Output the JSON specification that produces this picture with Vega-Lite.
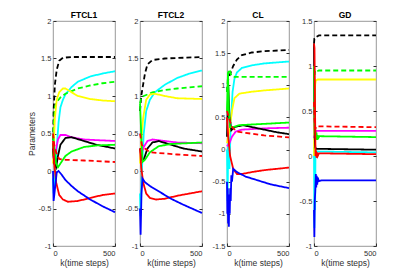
{
"$schema":"https://vega.github.io/schema/vega-lite/v6.json",
"background":"white",
"padding":{"left":26,"top":10,"right":5,"bottom":0},
"spacing":25,
"config":{"font":"Liberation Sans","view":{"stroke":"#7f7f7f","strokeWidth":0.8},
"axis":{"grid":false,"domain":false,"labelFontSize":7.5,"labelColor":"#303030","titleFontSize":8.5,"titleFontWeight":"normal","titleColor":"#303030","tickColor":"#303030","tickSize":-3,"labelPadding":5},
"title":{"fontSize":8.5,"fontWeight":"bold","offset":-2,"color":"#000"}},
"bounds":"flush",
"datasets":{"d":[
{"p":"FTCL1","s":"kd","k":0,"v":0.3},{"p":"FTCL1","s":"kd","k":5,"v":0.8},{"p":"FTCL1","s":"kd","k":15,"v":1.15},{"p":"FTCL1","s":"kd","k":30,"v":1.35},{"p":"FTCL1","s":"kd","k":50,"v":1.47},{"p":"FTCL1","s":"kd","k":80,"v":1.51},{"p":"FTCL1","s":"kd","k":150,"v":1.52},{"p":"FTCL1","s":"kd","k":500,"v":1.52},
{"p":"FTCL1","s":"c","k":0,"v":-0.1},{"p":"FTCL1","s":"c","k":5,"v":-0.3},{"p":"FTCL1","s":"c","k":15,"v":-0.1},{"p":"FTCL1","s":"c","k":30,"v":0.3},{"p":"FTCL1","s":"c","k":45,"v":0.65},{"p":"FTCL1","s":"c","k":60,"v":0.85},{"p":"FTCL1","s":"c","k":80,"v":0.95},{"p":"FTCL1","s":"c","k":100,"v":1.02},{"p":"FTCL1","s":"c","k":150,"v":1.12},{"p":"FTCL1","s":"c","k":200,"v":1.19},{"p":"FTCL1","s":"c","k":300,"v":1.26},{"p":"FTCL1","s":"c","k":400,"v":1.3},{"p":"FTCL1","s":"c","k":500,"v":1.33},
{"p":"FTCL1","s":"gd","k":0,"v":0.2},{"p":"FTCL1","s":"gd","k":5,"v":0.6},{"p":"FTCL1","s":"gd","k":15,"v":0.85},{"p":"FTCL1","s":"gd","k":30,"v":0.92},{"p":"FTCL1","s":"gd","k":60,"v":0.98},{"p":"FTCL1","s":"gd","k":100,"v":1.03},{"p":"FTCL1","s":"gd","k":200,"v":1.1},{"p":"FTCL1","s":"gd","k":300,"v":1.14},{"p":"FTCL1","s":"gd","k":400,"v":1.17},{"p":"FTCL1","s":"gd","k":500,"v":1.19},
{"p":"FTCL1","s":"y","k":0,"v":0.1},{"p":"FTCL1","s":"y","k":5,"v":0.3},{"p":"FTCL1","s":"y","k":15,"v":0.7},{"p":"FTCL1","s":"y","k":30,"v":0.95},{"p":"FTCL1","s":"y","k":50,"v":1.05},{"p":"FTCL1","s":"y","k":80,"v":1.1},{"p":"FTCL1","s":"y","k":100,"v":1.1},{"p":"FTCL1","s":"y","k":150,"v":1.05},{"p":"FTCL1","s":"y","k":200,"v":1.0},{"p":"FTCL1","s":"y","k":300,"v":0.96},{"p":"FTCL1","s":"y","k":400,"v":0.94},{"p":"FTCL1","s":"y","k":500,"v":0.93},
{"p":"FTCL1","s":"m","k":0,"v":0.2},{"p":"FTCL1","s":"m","k":10,"v":0.15},{"p":"FTCL1","s":"m","k":20,"v":0.25},{"p":"FTCL1","s":"m","k":40,"v":0.42},{"p":"FTCL1","s":"m","k":60,"v":0.48},{"p":"FTCL1","s":"m","k":100,"v":0.48},{"p":"FTCL1","s":"m","k":150,"v":0.45},{"p":"FTCL1","s":"m","k":250,"v":0.42},{"p":"FTCL1","s":"m","k":500,"v":0.4},
{"p":"FTCL1","s":"k","k":0,"v":0.3},{"p":"FTCL1","s":"k","k":10,"v":0.1},{"p":"FTCL1","s":"k","k":25,"v":0.05},{"p":"FTCL1","s":"k","k":40,"v":0.2},{"p":"FTCL1","s":"k","k":60,"v":0.35},{"p":"FTCL1","s":"k","k":100,"v":0.44},{"p":"FTCL1","s":"k","k":150,"v":0.45},{"p":"FTCL1","s":"k","k":250,"v":0.4},{"p":"FTCL1","s":"k","k":350,"v":0.35},{"p":"FTCL1","s":"k","k":500,"v":0.3},
{"p":"FTCL1","s":"g","k":0,"v":0.5},{"p":"FTCL1","s":"g","k":10,"v":0.3},{"p":"FTCL1","s":"g","k":25,"v":0.1},{"p":"FTCL1","s":"g","k":40,"v":0.05},{"p":"FTCL1","s":"g","k":60,"v":0.1},{"p":"FTCL1","s":"g","k":100,"v":0.2},{"p":"FTCL1","s":"g","k":150,"v":0.26},{"p":"FTCL1","s":"g","k":250,"v":0.32},{"p":"FTCL1","s":"g","k":350,"v":0.34},{"p":"FTCL1","s":"g","k":500,"v":0.35},
{"p":"FTCL1","s":"rd","k":0,"v":0.5},{"p":"FTCL1","s":"rd","k":10,"v":0.35},{"p":"FTCL1","s":"rd","k":25,"v":0.25},{"p":"FTCL1","s":"rd","k":50,"v":0.16},{"p":"FTCL1","s":"rd","k":100,"v":0.15},{"p":"FTCL1","s":"rd","k":250,"v":0.14},{"p":"FTCL1","s":"rd","k":500,"v":0.12},
{"p":"FTCL1","s":"r","k":0,"v":0.4},{"p":"FTCL1","s":"r","k":10,"v":0.1},{"p":"FTCL1","s":"r","k":25,"v":-0.15},{"p":"FTCL1","s":"r","k":50,"v":-0.32},{"p":"FTCL1","s":"r","k":80,"v":-0.38},{"p":"FTCL1","s":"r","k":120,"v":-0.41},{"p":"FTCL1","s":"r","k":200,"v":-0.4},{"p":"FTCL1","s":"r","k":300,"v":-0.36},{"p":"FTCL1","s":"r","k":400,"v":-0.32},{"p":"FTCL1","s":"r","k":500,"v":-0.3},
{"p":"FTCL1","s":"b","k":0,"v":0},{"p":"FTCL1","s":"b","k":5,"v":-0.4},{"p":"FTCL1","s":"b","k":15,"v":-0.25},{"p":"FTCL1","s":"b","k":30,"v":-0.02},{"p":"FTCL1","s":"b","k":45,"v":0.0},{"p":"FTCL1","s":"b","k":70,"v":-0.05},{"p":"FTCL1","s":"b","k":100,"v":-0.12},{"p":"FTCL1","s":"b","k":150,"v":-0.2},{"p":"FTCL1","s":"b","k":200,"v":-0.27},{"p":"FTCL1","s":"b","k":300,"v":-0.38},{"p":"FTCL1","s":"b","k":400,"v":-0.47},{"p":"FTCL1","s":"b","k":500,"v":-0.55},

{"p":"FTCL2","s":"kd","k":0,"v":0.8},{"p":"FTCL2","s":"kd","k":10,"v":1.0},{"p":"FTCL2","s":"kd","k":20,"v":1.1},{"p":"FTCL2","s":"kd","k":40,"v":1.3},{"p":"FTCL2","s":"kd","k":60,"v":1.42},{"p":"FTCL2","s":"kd","k":100,"v":1.48},{"p":"FTCL2","s":"kd","k":200,"v":1.5},{"p":"FTCL2","s":"kd","k":500,"v":1.52},
{"p":"FTCL2","s":"c","k":0,"v":-0.3},{"p":"FTCL2","s":"c","k":5,"v":-0.6},{"p":"FTCL2","s":"c","k":15,"v":0.0},{"p":"FTCL2","s":"c","k":30,"v":0.5},{"p":"FTCL2","s":"c","k":50,"v":0.8},{"p":"FTCL2","s":"c","k":80,"v":0.95},{"p":"FTCL2","s":"c","k":120,"v":1.05},{"p":"FTCL2","s":"c","k":200,"v":1.15},{"p":"FTCL2","s":"c","k":300,"v":1.24},{"p":"FTCL2","s":"c","k":400,"v":1.3},{"p":"FTCL2","s":"c","k":500,"v":1.34},
{"p":"FTCL2","s":"gd","k":0,"v":0.9},{"p":"FTCL2","s":"gd","k":10,"v":0.98},{"p":"FTCL2","s":"gd","k":30,"v":1.0},{"p":"FTCL2","s":"gd","k":60,"v":1.02},{"p":"FTCL2","s":"gd","k":100,"v":1.05},{"p":"FTCL2","s":"gd","k":200,"v":1.08},{"p":"FTCL2","s":"gd","k":300,"v":1.1},{"p":"FTCL2","s":"gd","k":500,"v":1.13},
{"p":"FTCL2","s":"y","k":0,"v":0.1},{"p":"FTCL2","s":"y","k":10,"v":0.4},{"p":"FTCL2","s":"y","k":25,"v":0.7},{"p":"FTCL2","s":"y","k":50,"v":0.95},{"p":"FTCL2","s":"y","k":80,"v":1.02},{"p":"FTCL2","s":"y","k":120,"v":1.03},{"p":"FTCL2","s":"y","k":200,"v":1.0},{"p":"FTCL2","s":"y","k":300,"v":0.97},{"p":"FTCL2","s":"y","k":500,"v":0.96},
{"p":"FTCL2","s":"m","k":0,"v":0.3},{"p":"FTCL2","s":"m","k":15,"v":0.25},{"p":"FTCL2","s":"m","k":30,"v":0.32},{"p":"FTCL2","s":"m","k":60,"v":0.4},{"p":"FTCL2","s":"m","k":100,"v":0.42},{"p":"FTCL2","s":"m","k":200,"v":0.4},{"p":"FTCL2","s":"m","k":300,"v":0.38},{"p":"FTCL2","s":"m","k":500,"v":0.37},
{"p":"FTCL2","s":"k","k":0,"v":0.3},{"p":"FTCL2","s":"k","k":15,"v":0.15},{"p":"FTCL2","s":"k","k":30,"v":0.15},{"p":"FTCL2","s":"k","k":60,"v":0.3},{"p":"FTCL2","s":"k","k":100,"v":0.38},{"p":"FTCL2","s":"k","k":150,"v":0.4},{"p":"FTCL2","s":"k","k":250,"v":0.35},{"p":"FTCL2","s":"k","k":350,"v":0.3},{"p":"FTCL2","s":"k","k":500,"v":0.26},
{"p":"FTCL2","s":"g","k":0,"v":0.9},{"p":"FTCL2","s":"g","k":10,"v":0.5},{"p":"FTCL2","s":"g","k":20,"v":0.12},{"p":"FTCL2","s":"g","k":40,"v":0.15},{"p":"FTCL2","s":"g","k":80,"v":0.25},{"p":"FTCL2","s":"g","k":150,"v":0.33},{"p":"FTCL2","s":"g","k":250,"v":0.36},{"p":"FTCL2","s":"g","k":500,"v":0.38},
{"p":"FTCL2","s":"rd","k":0,"v":0.5},{"p":"FTCL2","s":"rd","k":15,"v":0.35},{"p":"FTCL2","s":"rd","k":40,"v":0.3},{"p":"FTCL2","s":"rd","k":80,"v":0.25},{"p":"FTCL2","s":"rd","k":150,"v":0.24},{"p":"FTCL2","s":"rd","k":300,"v":0.22},{"p":"FTCL2","s":"rd","k":500,"v":0.2},
{"p":"FTCL2","s":"r","k":0,"v":0.3},{"p":"FTCL2","s":"r","k":10,"v":0.05},{"p":"FTCL2","s":"r","k":25,"v":-0.15},{"p":"FTCL2","s":"r","k":50,"v":-0.3},{"p":"FTCL2","s":"r","k":80,"v":-0.36},{"p":"FTCL2","s":"r","k":130,"v":-0.38},{"p":"FTCL2","s":"r","k":200,"v":-0.37},{"p":"FTCL2","s":"r","k":300,"v":-0.33},{"p":"FTCL2","s":"r","k":400,"v":-0.3},{"p":"FTCL2","s":"r","k":500,"v":-0.27},
{"p":"FTCL2","s":"b","k":0,"v":-0.5},{"p":"FTCL2","s":"b","k":5,"v":-0.85},{"p":"FTCL2","s":"b","k":12,"v":-0.3},{"p":"FTCL2","s":"b","k":20,"v":-0.1},{"p":"FTCL2","s":"b","k":40,"v":-0.15},{"p":"FTCL2","s":"b","k":80,"v":-0.2},{"p":"FTCL2","s":"b","k":150,"v":-0.27},{"p":"FTCL2","s":"b","k":250,"v":-0.37},{"p":"FTCL2","s":"b","k":350,"v":-0.45},{"p":"FTCL2","s":"b","k":500,"v":-0.56},

{"p":"CL","s":"kd","k":0,"v":0.9},{"p":"CL","s":"kd","k":10,"v":1.1},{"p":"CL","s":"kd","k":30,"v":1.2},{"p":"CL","s":"kd","k":50,"v":1.3},{"p":"CL","s":"kd","k":80,"v":1.4},{"p":"CL","s":"kd","k":120,"v":1.47},{"p":"CL","s":"kd","k":200,"v":1.51},{"p":"CL","s":"kd","k":300,"v":1.53},{"p":"CL","s":"kd","k":500,"v":1.55},
{"p":"CL","s":"c","k":0,"v":0},{"p":"CL","s":"c","k":5,"v":-0.8},{"p":"CL","s":"c","k":10,"v":0.2},{"p":"CL","s":"c","k":20,"v":-0.3},{"p":"CL","s":"c","k":30,"v":0.4},{"p":"CL","s":"c","k":45,"v":0.9},{"p":"CL","s":"c","k":60,"v":1.1},{"p":"CL","s":"c","k":80,"v":1.2},{"p":"CL","s":"c","k":120,"v":1.27},{"p":"CL","s":"c","k":200,"v":1.31},{"p":"CL","s":"c","k":300,"v":1.34},{"p":"CL","s":"c","k":500,"v":1.37},
{"p":"CL","s":"gd","k":0,"v":0.9},{"p":"CL","s":"gd","k":10,"v":1.2},{"p":"CL","s":"gd","k":20,"v":1.25},{"p":"CL","s":"gd","k":35,"v":1.15},{"p":"CL","s":"gd","k":60,"v":1.13},{"p":"CL","s":"gd","k":500,"v":1.13},
{"p":"CL","s":"y","k":0,"v":0.1},{"p":"CL","s":"y","k":20,"v":0.3},{"p":"CL","s":"y","k":40,"v":0.6},{"p":"CL","s":"y","k":60,"v":0.8},{"p":"CL","s":"y","k":100,"v":0.87},{"p":"CL","s":"y","k":200,"v":0.9},{"p":"CL","s":"y","k":300,"v":0.92},{"p":"CL","s":"y","k":500,"v":0.95},
{"p":"CL","s":"m","k":0,"v":0.05},{"p":"CL","s":"m","k":20,"v":0.1},{"p":"CL","s":"m","k":40,"v":0.2},{"p":"CL","s":"m","k":70,"v":0.28},{"p":"CL","s":"m","k":120,"v":0.31},{"p":"CL","s":"m","k":300,"v":0.33},{"p":"CL","s":"m","k":500,"v":0.34},
{"p":"CL","s":"k","k":0,"v":0.2},{"p":"CL","s":"k","k":10,"v":1.0},{"p":"CL","s":"k","k":20,"v":0.5},{"p":"CL","s":"k","k":35,"v":0.3},{"p":"CL","s":"k","k":60,"v":0.35},{"p":"CL","s":"k","k":130,"v":0.38},{"p":"CL","s":"k","k":250,"v":0.33},{"p":"CL","s":"k","k":400,"v":0.27},{"p":"CL","s":"k","k":500,"v":0.24},
{"p":"CL","s":"g","k":0,"v":0.6},{"p":"CL","s":"g","k":8,"v":1.2},{"p":"CL","s":"g","k":15,"v":0.6},{"p":"CL","s":"g","k":25,"v":0.35},{"p":"CL","s":"g","k":50,"v":0.35},{"p":"CL","s":"g","k":100,"v":0.38},{"p":"CL","s":"g","k":300,"v":0.4},{"p":"CL","s":"g","k":500,"v":0.42},
{"p":"CL","s":"rd","k":0,"v":0.6},{"p":"CL","s":"rd","k":15,"v":0.5},{"p":"CL","s":"rd","k":40,"v":0.35},{"p":"CL","s":"rd","k":80,"v":0.28},{"p":"CL","s":"rd","k":150,"v":0.26},{"p":"CL","s":"rd","k":300,"v":0.22},{"p":"CL","s":"rd","k":500,"v":0.19},
{"p":"CL","s":"r","k":0,"v":0.5},{"p":"CL","s":"r","k":10,"v":0.2},{"p":"CL","s":"r","k":25,"v":-0.1},{"p":"CL","s":"r","k":50,"v":-0.3},{"p":"CL","s":"r","k":80,"v":-0.38},{"p":"CL","s":"r","k":120,"v":-0.38},{"p":"CL","s":"r","k":200,"v":-0.35},{"p":"CL","s":"r","k":300,"v":-0.32},{"p":"CL","s":"r","k":500,"v":-0.28},
{"p":"CL","s":"b","k":0,"v":-0.5},{"p":"CL","s":"b","k":3,"v":-1.0},{"p":"CL","s":"b","k":6,"v":-0.6},{"p":"CL","s":"b","k":9,"v":-1.15},{"p":"CL","s":"b","k":12,"v":-0.7},{"p":"CL","s":"b","k":15,"v":-1.2},{"p":"CL","s":"b","k":18,"v":-0.8},{"p":"CL","s":"b","k":22,"v":-1.0},{"p":"CL","s":"b","k":26,"v":-0.6},{"p":"CL","s":"b","k":30,"v":-0.8},{"p":"CL","s":"b","k":35,"v":-0.4},{"p":"CL","s":"b","k":40,"v":-0.5},{"p":"CL","s":"b","k":50,"v":-0.3},{"p":"CL","s":"b","k":80,"v":-0.35},{"p":"CL","s":"b","k":150,"v":-0.42},{"p":"CL","s":"b","k":250,"v":-0.48},{"p":"CL","s":"b","k":350,"v":-0.54},{"p":"CL","s":"b","k":500,"v":-0.6},

{"p":"GD","s":"kd","k":0,"v":1.25},{"p":"GD","s":"kd","k":3,"v":1.3},{"p":"GD","s":"kd","k":8,"v":1.3},{"p":"GD","s":"kd","k":15,"v":1.32},{"p":"GD","s":"kd","k":40,"v":1.34},{"p":"GD","s":"kd","k":500,"v":1.34},
{"p":"GD","s":"c","k":0,"v":0.1},{"p":"GD","s":"c","k":3,"v":-0.8},{"p":"GD","s":"c","k":6,"v":-0.3},{"p":"GD","s":"c","k":9,"v":-0.6},{"p":"GD","s":"c","k":12,"v":0.1},{"p":"GD","s":"c","k":15,"v":0.0},{"p":"GD","s":"c","k":20,"v":0.05},{"p":"GD","s":"c","k":500,"v":0.04},
{"p":"GD","s":"gd","k":0,"v":1.0},{"p":"GD","s":"gd","k":5,"v":0.9},{"p":"GD","s":"gd","k":10,"v":0.95},{"p":"GD","s":"gd","k":20,"v":0.94},{"p":"GD","s":"gd","k":40,"v":0.95},{"p":"GD","s":"gd","k":500,"v":0.95},
{"p":"GD","s":"y","k":0,"v":0.0},{"p":"GD","s":"y","k":5,"v":0.6},{"p":"GD","s":"y","k":10,"v":0.8},{"p":"GD","s":"y","k":15,"v":0.84},{"p":"GD","s":"y","k":30,"v":0.85},{"p":"GD","s":"y","k":500,"v":0.85},
{"p":"GD","s":"m","k":0,"v":0.2},{"p":"GD","s":"m","k":10,"v":0.25},{"p":"GD","s":"m","k":20,"v":0.28},{"p":"GD","s":"m","k":500,"v":0.28},
{"p":"GD","s":"k","k":0,"v":1.25},{"p":"GD","s":"k","k":3,"v":0.5},{"p":"GD","s":"k","k":6,"v":0.2},{"p":"GD","s":"k","k":10,"v":0.1},{"p":"GD","s":"k","k":15,"v":0.08},{"p":"GD","s":"k","k":500,"v":0.07},
{"p":"GD","s":"g","k":0,"v":1.0},{"p":"GD","s":"g","k":5,"v":0.5},{"p":"GD","s":"g","k":10,"v":0.3},{"p":"GD","s":"g","k":15,"v":0.18},{"p":"GD","s":"g","k":20,"v":0.26},{"p":"GD","s":"g","k":25,"v":0.18},{"p":"GD","s":"g","k":30,"v":0.23},{"p":"GD","s":"g","k":35,"v":0.2},{"p":"GD","s":"g","k":45,"v":0.22},{"p":"GD","s":"g","k":500,"v":0.21},
{"p":"GD","s":"rd","k":0,"v":0.6},{"p":"GD","s":"rd","k":5,"v":0.4},{"p":"GD","s":"rd","k":10,"v":0.3},{"p":"GD","s":"rd","k":20,"v":0.33},{"p":"GD","s":"rd","k":500,"v":0.32},
{"p":"GD","s":"r","k":0,"v":1.25},{"p":"GD","s":"r","k":4,"v":1.2},{"p":"GD","s":"r","k":8,"v":0.6},{"p":"GD","s":"r","k":12,"v":0.0},{"p":"GD","s":"r","k":16,"v":0.06},{"p":"GD","s":"r","k":20,"v":-0.02},{"p":"GD","s":"r","k":25,"v":0.04},{"p":"GD","s":"r","k":30,"v":0.0},{"p":"GD","s":"r","k":40,"v":0.03},{"p":"GD","s":"r","k":500,"v":0.02},
{"p":"GD","s":"b","k":0,"v":-0.6},{"p":"GD","s":"b","k":3,"v":-0.9},{"p":"GD","s":"b","k":6,"v":-0.5},{"p":"GD","s":"b","k":10,"v":-0.4},{"p":"GD","s":"b","k":15,"v":-0.2},{"p":"GD","s":"b","k":18,"v":-0.35},{"p":"GD","s":"b","k":22,"v":-0.22},{"p":"GD","s":"b","k":26,"v":-0.32},{"p":"GD","s":"b","k":30,"v":-0.24},{"p":"GD","s":"b","k":40,"v":-0.28},{"p":"GD","s":"b","k":60,"v":-0.27},{"p":"GD","s":"b","k":500,"v":-0.27}
]},
"hconcat":[
{"title":"FTCL1","width":62,"height":225,"data":{"name":"d"},"transform":[{"filter":"datum.p==='FTCL1'"}],
 "resolve":{"axis":{"x":"independent","y":"independent"}},
 "layer":[
 {"mark":{"type":"line","strokeWidth":1.8},"encoding":{
  "x":{"field":"k","type":"quantitative","scale":{"domain":[0,500],"nice":false},"axis":{"values":[0,500],"title":"k(time steps)","titlePadding":2,"labelPadding":6}},
  "y":{"field":"v","type":"quantitative","scale":{"domain":[-1,2],"nice":false,"zero":false},"axis":{"values":[-1,-0.5,0,0.5,1,1.5,2],"labelExpr":"datum.value","title":"Parameters","titlePadding":2}},
  "color":{"field":"s","type":"nominal","legend":null,"scale":{"domain":["kd","c","gd","y","m","k","g","rd","r","b"],"range":["#000000","#00ffff","#00ff00","#ffff00","#ff00ff","#000000","#00ff00","#ff0000","#ff0000","#0000ff"]}},
  "strokeDash":{"field":"s","type":"nominal","legend":null,"scale":{"domain":["kd","c","gd","y","m","k","g","rd","r","b"],"range":[[5,3],[1,0],[5,3],[1,0],[1,0],[1,0],[1,0],[5,3],[1,0],[1,0]]}}}},
 {"mark":{"type":"line","opacity":0},"encoding":{
  "x":{"field":"k","type":"quantitative","axis":null},
  "y":{"field":"v","type":"quantitative","axis":{"orient":"right","values":[-1,-0.5,0,0.5,1,1.5,2],"labels":false,"title":null}},
  "detail":{"field":"s"}}}
 ]},
{"title":"FTCL2","width":62,"height":225,"data":{"name":"d"},"transform":[{"filter":"datum.p==='FTCL2'"}],
 "resolve":{"axis":{"x":"independent","y":"independent"}},
 "layer":[
 {"mark":{"type":"line","strokeWidth":1.8},"encoding":{
  "x":{"field":"k","type":"quantitative","scale":{"domain":[0,500],"nice":false},"axis":{"values":[0,500],"title":"k(time steps)","titlePadding":2,"labelPadding":6}},
  "y":{"field":"v","type":"quantitative","scale":{"domain":[-1,2],"nice":false,"zero":false},"axis":{"values":[-1,-0.5,0,0.5,1,1.5,2],"labelExpr":"datum.value","title":null}},
  "color":{"field":"s","type":"nominal","legend":null,"scale":{"domain":["kd","c","gd","y","m","k","g","rd","r","b"],"range":["#000000","#00ffff","#00ff00","#ffff00","#ff00ff","#000000","#00ff00","#ff0000","#ff0000","#0000ff"]}},
  "strokeDash":{"field":"s","type":"nominal","legend":null,"scale":{"domain":["kd","c","gd","y","m","k","g","rd","r","b"],"range":[[5,3],[1,0],[5,3],[1,0],[1,0],[1,0],[1,0],[5,3],[1,0],[1,0]]}}}},
 {"mark":{"type":"line","opacity":0},"encoding":{
  "x":{"field":"k","type":"quantitative","axis":null},
  "y":{"field":"v","type":"quantitative","axis":{"orient":"right","values":[-1,-0.5,0,0.5,1,1.5,2],"labels":false,"title":null}},
  "detail":{"field":"s"}}}
 ]},
{"title":"CL","width":62,"height":225,"data":{"name":"d"},"transform":[{"filter":"datum.p==='CL'"}],
 "resolve":{"axis":{"x":"independent","y":"independent"}},
 "layer":[
 {"mark":{"type":"line","strokeWidth":1.8},"encoding":{
  "x":{"field":"k","type":"quantitative","scale":{"domain":[0,500],"nice":false},"axis":{"values":[0,500],"title":"k(time steps)","titlePadding":2,"labelPadding":6}},
  "y":{"field":"v","type":"quantitative","scale":{"domain":[-1.5,2],"nice":false,"zero":false},"axis":{"values":[-1.5,-1,-0.5,0,0.5,1,1.5,2],"labelExpr":"datum.value","title":null}},
  "color":{"field":"s","type":"nominal","legend":null,"scale":{"domain":["kd","c","gd","y","m","k","g","rd","r","b"],"range":["#000000","#00ffff","#00ff00","#ffff00","#ff00ff","#000000","#00ff00","#ff0000","#ff0000","#0000ff"]}},
  "strokeDash":{"field":"s","type":"nominal","legend":null,"scale":{"domain":["kd","c","gd","y","m","k","g","rd","r","b"],"range":[[5,3],[1,0],[5,3],[1,0],[1,0],[1,0],[1,0],[5,3],[1,0],[1,0]]}}}},
 {"mark":{"type":"line","opacity":0},"encoding":{
  "x":{"field":"k","type":"quantitative","axis":null},
  "y":{"field":"v","type":"quantitative","axis":{"orient":"right","values":[-1.5,-1,-0.5,0,0.5,1,1.5,2],"labels":false,"title":null}},
  "detail":{"field":"s"}}}
 ]},
{"title":"GD","width":62,"height":225,"data":{"name":"d"},"transform":[{"filter":"datum.p==='GD'"}],
 "resolve":{"axis":{"x":"independent","y":"independent"}},
 "layer":[
 {"mark":{"type":"line","strokeWidth":1.8},"encoding":{
  "x":{"field":"k","type":"quantitative","scale":{"domain":[0,500],"nice":false},"axis":{"values":[0,500],"title":"k(time steps)","titlePadding":2,"labelPadding":6}},
  "y":{"field":"v","type":"quantitative","scale":{"domain":[-1,1.5],"nice":false,"zero":false},"axis":{"values":[-1,-0.5,0,0.5,1,1.5],"labelExpr":"datum.value","title":null}},
  "color":{"field":"s","type":"nominal","legend":null,"scale":{"domain":["kd","c","gd","y","m","k","g","rd","r","b"],"range":["#000000","#00ffff","#00ff00","#ffff00","#ff00ff","#000000","#00ff00","#ff0000","#ff0000","#0000ff"]}},
  "strokeDash":{"field":"s","type":"nominal","legend":null,"scale":{"domain":["kd","c","gd","y","m","k","g","rd","r","b"],"range":[[5,3],[1,0],[5,3],[1,0],[1,0],[1,0],[1,0],[5,3],[1,0],[1,0]]}}}},
 {"mark":{"type":"line","opacity":0},"encoding":{
  "x":{"field":"k","type":"quantitative","axis":null},
  "y":{"field":"v","type":"quantitative","axis":{"orient":"right","values":[-1,-0.5,0,0.5,1,1.5],"labels":false,"title":null}},
  "detail":{"field":"s"}}}
 ]}
]}
